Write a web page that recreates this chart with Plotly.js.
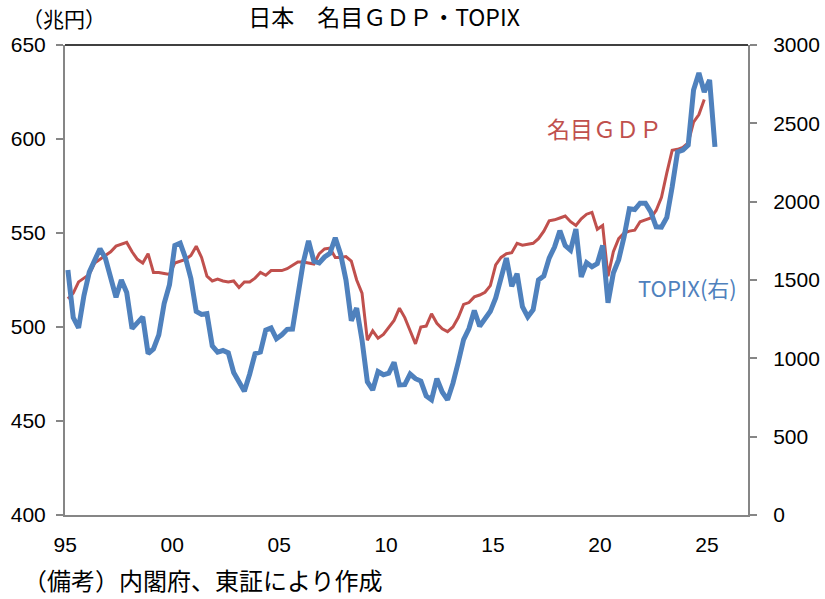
<!DOCTYPE html>
<html>
<head>
<meta charset="utf-8">
<script src="https://cdn.plot.ly/plotly-3.0.1.min.js"></script>
<style>
  html, body { margin: 0; padding: 0; background: #fff; }
  #graph { width: 825px; height: 599px; }
</style>
</head>
<body>
<div id="graph"></div>
<script>
// quarterly series, 1995Q1 onwards
var startYear = 1995;

// 名目GDP (兆円, 左軸) 1995Q1 - 2024Q4
var gdp = [
  515, 518, 524, 526,   528, 534, 536, 538,   540, 543, 544, 545,   540, 536, 534, 539,
  529, 529, 528.5, 528, 534, 535, 536, 538,   543, 537, 527, 524.5, 525.5, 524.5, 524, 524.5,
  521, 524, 524, 526,   529, 527.5, 530, 530, 530, 531, 533, 534.6, 534.6, 534, 533.5, 539,
  541.5, 542, 537, 537, 537.5, 535, 525, 518, 493, 498, 494, 496,   500, 503.5, 510, 505,
  498, 491, 500, 500.5, 507, 502, 499, 497.5, 500, 505, 512, 513,   516, 517, 518.5, 522,
  533, 537, 539, 539.5, 544.5, 543.5, 544, 544.5, 547, 551, 556.5, 557, 558, 559, 556, 554,
  557.5, 560, 561, 552, 554, 527, 540, 547,   550, 551, 551.5, 556, 557, 558, 562, 569,
  582, 594, 594.5, 595.5, 598, 609, 613, 621
];

// TOPIX (右軸) 1995Q1 - 2025Q2
var topix = [
  1564, 1260, 1194, 1400, 1550, 1620, 1700, 1640, 1520, 1390, 1500, 1420, 1190, 1230, 1265, 1030,
  1060, 1150, 1350, 1470, 1720, 1735, 1640, 1510, 1300, 1280, 1285, 1080, 1040, 1050, 1035, 910,
  850, 790, 900, 1030,  1040, 1180, 1194, 1125, 1150, 1185, 1187, 1380, 1610, 1750, 1620, 1609,
  1647, 1670, 1770, 1665, 1500, 1240, 1321, 1117, 850, 798, 915, 895,   905, 975, 830, 832,
  900, 870, 855, 760,   735, 870, 785, 735,   840, 975, 1120, 1190, 1305, 1205, 1250, 1300,
  1385, 1510, 1640, 1460, 1540, 1330, 1265, 1310, 1500, 1525, 1640, 1710, 1815, 1720, 1690, 1825,
  1520, 1610, 1585, 1605, 1720, 1355, 1545, 1630, 1775, 1955, 1950, 1990, 1990, 1935, 1840, 1838,
  1900, 2094, 2317, 2330, 2362, 2713, 2821, 2700, 2777, 2350
];

var yearTicks = [1995, 2000, 2005, 2010, 2015, 2020, 2025];
var yearLabels = ['95', '00', '05', '10', '15', '20', '25'];

// quarter positions (mid-quarter)
function quarters(n) {
  var out = [];
  for (var i = 0; i < n; i++) out.push(startYear + 0.125 + 0.25 * i);
  return out;
}

var numFont = 'Liberation Sans, Arial, sans-serif';
var jpFont = 'Noto Sans CJK JP, sans-serif';

var trace1 = {
  x: quarters(gdp.length),
  y: gdp,
  mode: 'lines',
  name: '名目ＧＤＰ',
  type: 'scatter',
  line: { color: '#C0504D', width: 3 }
};

var trace2 = {
  x: quarters(topix.length),
  y: topix,
  yaxis: 'y2',
  mode: 'lines',
  name: 'TOPIX',
  type: 'scatter',
  line: { color: '#4F81BD', width: 5 }
};

var layout = {
  width: 825,
  height: 599,
  showlegend: false,
  paper_bgcolor: '#fff',
  plot_bgcolor: '#fff',
  margin: { l: 65, r: 77, t: 45, b: 84 },
  title: {
    text: '日本　名目ＧＤＰ・TOPIX',
    font: { family: jpFont, size: 23, color: '#000' },
    x: 384 / 825, xanchor: 'center',
    y: 1 - 18 / 599, yanchor: 'middle'
  },
  xaxis: {
    range: [1994.99, 2026.92],
    tickvals: yearTicks,
    ticktext: yearLabels,
    ticks: '',
    showgrid: false,
    zeroline: false,
    showline: true,
    linecolor: '#868686',
    linewidth: 2,
    ticklabelstandoff: 10,
    tickfont: { family: numFont, size: 21, color: '#000' }
  },
  yaxis: {
    range: [400, 650],
    dtick: 50,
    ticks: 'outside',
    ticklen: 7,
    tickwidth: 2,
    tickcolor: '#868686',
    showgrid: false,
    zeroline: false,
    showline: true,
    linecolor: '#868686',
    linewidth: 2,
    ticklabelstandoff: 6,
    tickfont: { family: numFont, size: 21, color: '#000' }
  },
  yaxis2: {
    range: [0, 3000],
    dtick: 500,
    overlaying: 'y',
    side: 'right',
    ticks: 'outside',
    ticklen: 7,
    tickwidth: 2,
    tickcolor: '#868686',
    showgrid: false,
    zeroline: false,
    showline: true,
    linecolor: '#868686',
    linewidth: 2,
    ticklabelstandoff: 12,
    tickfont: { family: numFont, size: 21, color: '#000' }
  },
  shapes: [{
    type: 'line', xref: 'paper', yref: 'paper',
    x0: 0, x1: 1, y0: 1, y1: 1,
    line: { color: '#000', width: 1.5 }
  }],
  annotations: [
    {
      text: '（兆円）', xref: 'paper', yref: 'paper',
      x: -0.066, y: 1.057, xanchor: 'left', yanchor: 'middle', showarrow: false,
      font: { family: jpFont, size: 21, color: '#000' }
    },
    {
      text: '（備考）内閣府、東証により作成', xref: 'paper', yref: 'paper',
      x: -0.064, y: -0.138, xanchor: 'left', yanchor: 'middle', showarrow: false,
      font: { family: jpFont, size: 24, color: '#000' }
    },
    {
      text: '名目ＧＤＰ', xref: 'paper', yref: 'paper',
      x: 0.7906, y: 0.823, xanchor: 'center', yanchor: 'middle', showarrow: false,
      font: { family: jpFont, size: 23, color: '#C0504D' }
    },
    {
      text: 'TOPIX(右)', xref: 'paper', yref: 'paper',
      x: 0.912, y: 0.485, xanchor: 'center', yanchor: 'middle', showarrow: false,
      font: { family: jpFont, size: 22, color: '#4F81BD' }
    }
  ]
};

Plotly.newPlot('graph', [trace1, trace2], layout, { staticPlot: true });
</script>
</body>
</html>
